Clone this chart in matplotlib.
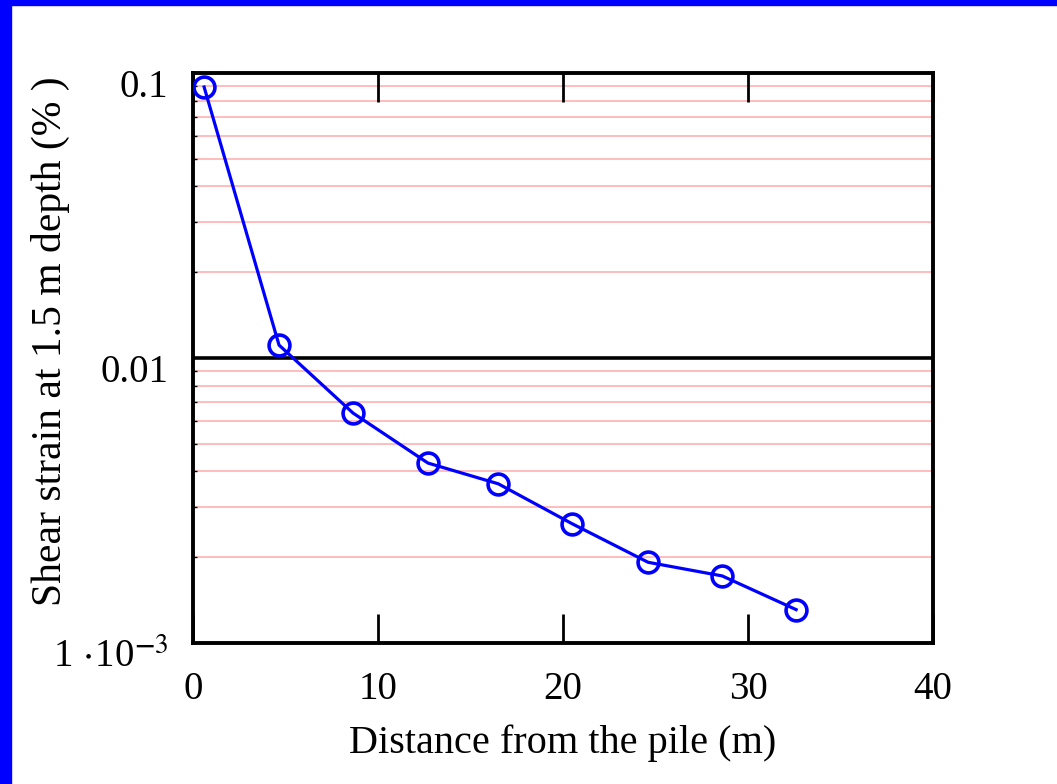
import matplotlib.pyplot as plt
import matplotlib.transforms as mtransforms
from matplotlib.patches import Rectangle

plt.rcParams['font.family'] = ['Liberation Serif', 'DejaVu Serif']
plt.rcParams['mathtext.fontset'] = 'stix'

# distance from the pile (m) and shear strain at 1.5 m depth (%)
distance = [0.6, 4.65, 8.65, 12.7, 16.5, 20.5, 24.6, 28.6, 32.6]
strain = [0.0893, 0.0111, 0.00641, 0.00428, 0.00362, 0.00262, 0.00192, 0.00172, 0.00131]

x_ticks = [0, 10, 20, 30, 40]
y_ticks = [0.001, 0.01, 0.1]
y_tick_labels = [r'1$\,\cdot\!$10$^{\mathbf{-}3}$', '0.01', '0.1']
minor_levels = [m * d for d in (0.001, 0.01) for m in range(2, 10)]

fig = plt.figure(figsize=(10.57, 7.84), dpi=100)
ax = fig.add_axes([0.1826, 0.1798, 0.7001, 0.7271])

# frame strips along the left and top edges
fig.patches.append(Rectangle((0, 0), 11 / 1057, 1, transform=fig.transFigure,
                             color='#0000ff', zorder=0))
fig.patches.append(Rectangle((0, 1 - 5 / 784), 1, 5 / 784, transform=fig.transFigure,
                             color='#0000ff', zorder=0))

for lvl in minor_levels:
    ax.axhline(lvl, color='#ffaaaa', lw=1.1, zorder=1)
ax.axhline(0.01, color='black', lw=2.6, zorder=2)

ax.plot(distance, strain, color='#0000ff', lw=2.3, marker='o', ms=15,
        mfc='none', mec='#0000ff', mew=2.6, zorder=3)

ax.set_yscale('log')
ax.set_xlim(0, 40)
ax.set_ylim(0.001, 0.1)
ax.set_xticks(x_ticks)
ax.set_yticks(y_ticks)
ax.set_yticklabels(y_tick_labels)
ax.set_yticks(minor_levels, minor=True)
ax.set_yticklabels([], minor=True)

ax.tick_params(axis='x', which='major', direction='in', length=21, width=2.0,
               top=True, labelsize=28, pad=20)
ax.tick_params(axis='y', which='major', direction='in', length=0, labelsize=28, pad=18)
ax.tick_params(axis='y', which='minor', direction='in', length=3, width=1)

offset = mtransforms.ScaledTranslation(0, -10 / 100, fig.dpi_scale_trans)
for lab in ax.get_yticklabels():
    lab.set_transform(lab.get_transform() + offset)

for sp in ax.spines.values():
    sp.set_linewidth(2.8)

ax.set_xlabel('Distance from the pile (m)', fontsize=29, labelpad=12)
ax.set_ylabel('Shear strain at 1.5 m depth (% )', fontsize=30)
ax.yaxis.set_label_coords(-0.166, 0.53)

fig.savefig('out.png', dpi=100)
